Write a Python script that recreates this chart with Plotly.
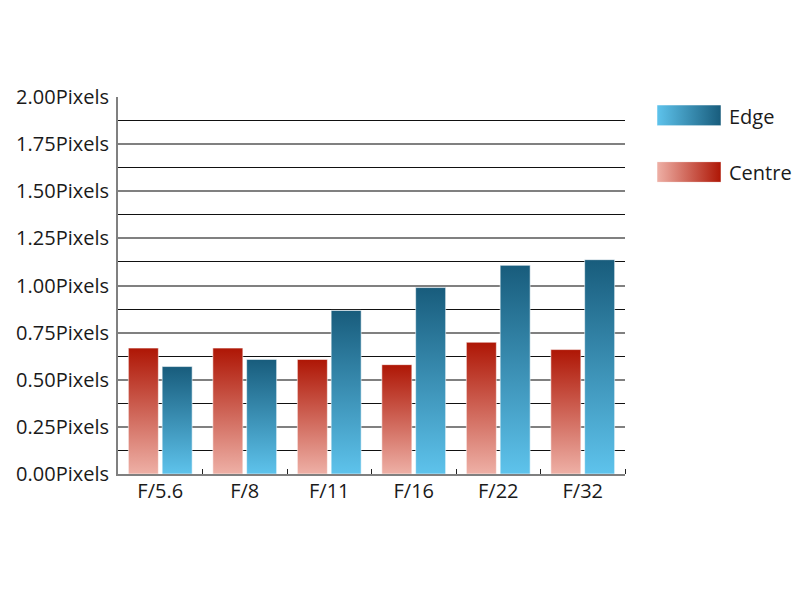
import plotly.graph_objects as go

categories = ["F/5.6", "F/8", "F/11", "F/16", "F/22", "F/32"]
centre = [0.668, 0.668, 0.608, 0.580, 0.699, 0.660]
edge = [0.570, 0.608, 0.868, 0.989, 1.107, 1.137]
y_ticks = [0, 0.25, 0.5, 0.75, 1.0, 1.25, 1.5, 1.75, 2.0]
y_labels = [f"{v:.2f}Pixels" for v in y_ticks]

RED = [[0, "#eeb0a6"], [1, "#ae1605"]]
BLUE = [[0, "#5ec3ec"], [1, "#185c7c"]]
FONT = "Open Sans"

# page body has an 8px margin; figure is sized/positioned to compensate
PW, PH, M = 792, 592, 8
def px(x):
    return (x - M) / PW
def py(y):
    return 1 - (y - M) / PH

W = 0.355
OFF = 0.2

fig = go.Figure()

def bar_trace(xc, val, cs, name):
    x0, x1 = xc - W / 2, xc + W / 2
    return go.Scatter(
        x=[x0, x1, x1, x0, x0], y=[0, 0, val, val, 0],
        mode="lines", fill="toself",
        line=dict(color="rgba(255,255,255,0.55)", width=1),
        fillgradient=dict(type="vertical", colorscale=cs),
        showlegend=False, hoverinfo="text", text=f"{name}: {val}",
    )

for i, cat in enumerate(categories):
    fig.add_trace(bar_trace(i - OFF, centre[i], RED, "Centre"))
    fig.add_trace(bar_trace(i + OFF, edge[i], BLUE, "Edge"))

# legend swatches (horizontal gradients)
for yax, cs in (("y2", BLUE), ("y3", RED)):
    fig.add_trace(go.Scatter(
        x=[0, 1, 1, 0, 0], y=[0, 0, 1, 1, 0], xaxis="x2", yaxis=yax,
        mode="lines", fill="toself",
        line=dict(color="rgba(255,255,255,0.5)", width=1),
        fillgradient=dict(type="horizontal", colorscale=cs),
        showlegend=False, hoverinfo="skip",
    ))

fig.update_layout(
    width=PW, height=PH,
    margin=dict(l=0, r=0, t=0, b=0),
    paper_bgcolor="white", plot_bgcolor="white",
    font=dict(family=FONT, size=20, color="#1a1a1a"),
    showlegend=False,
    xaxis=dict(
        domain=[px(118), px(625)], range=[-0.5, 5.5],
        tickmode="array", tickvals=list(range(len(categories))), ticktext=categories,
        ticks="", showgrid=False, zeroline=False,
        showline=True, linecolor="#808080", linewidth=2,
        ticklabelstandoff=-2, automargin=False,
        minor=dict(tickmode="array", tickvals=[i + 0.5 for i in range(len(categories))],
                   ticks="inside", ticklen=5, tickwidth=1, tickcolor="#222222", showgrid=False),
        fixedrange=True,
    ),
    yaxis=dict(
        domain=[py(474), py(97)], range=[0, 2.0],
        tickmode="array", tickvals=y_ticks, ticktext=y_labels,
        ticks="", showgrid=True, gridcolor="#808080", gridwidth=1.5,
        zeroline=False, showline=True, linecolor="#808080", linewidth=2,
        ticklabelstandoff=3, automargin=False,
        minor=dict(tickmode="array", tickvals=[0.125 + 0.25 * k for k in range(8)],
                   showgrid=True, gridcolor="#111111", gridwidth=1),
        fixedrange=True,
    ),
    xaxis2=dict(domain=[px(657), px(721)], range=[0, 1], visible=False, fixedrange=True),
    yaxis2=dict(domain=[py(125.7), py(105)], range=[0, 1], visible=False, fixedrange=True),
    yaxis3=dict(domain=[py(182.3), py(161.7)], range=[0, 1], visible=False, fixedrange=True),
    annotations=[
        dict(text="Edge", x=px(727), y=py(116), xref="paper", yref="paper",
             xanchor="left", yanchor="middle", showarrow=False, font=dict(size=20)),
        dict(text="Centre", x=px(727), y=py(172.5), xref="paper", yref="paper",
             xanchor="left", yanchor="middle", showarrow=False, font=dict(size=20)),
    ],
)

fig.write_html("out.html")
